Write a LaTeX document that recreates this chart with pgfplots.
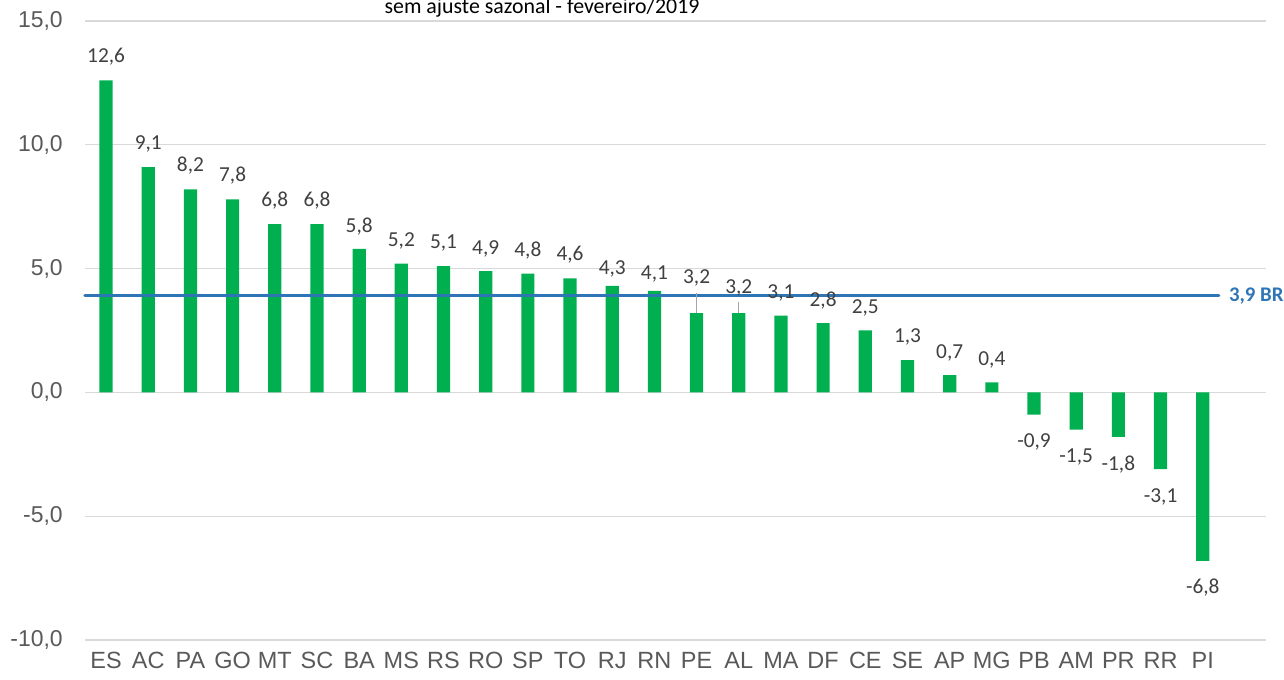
\documentclass[border=0pt]{standalone}
\usepackage{pgfplots}
\pgfplotsset{compat=1.18}
\usepackage{pgfplotstable}
\usepackage{fontspec}
\setmainfont{Carlito}
\newfontfamily\arial{Liberation Sans}
\definecolor{bargreen}{HTML}{00B050}
\definecolor{lineblue}{HTML}{2E75B6}
\definecolor{gridgray}{HTML}{D9D9D9}
\definecolor{ticktext}{HTML}{595959}
\definecolor{labeltext}{HTML}{404040}
\definecolor{leader}{HTML}{A6A6A6}

\pgfplotstableread{
x y ly
0 12.6 13.55
1 9.1 10.02
2 8.2 9.15
3 7.8 8.75
4 6.8 7.73
5 6.8 7.73
6 5.8 6.70
7 5.2 6.10
8 5.1 6.02
9 4.9 5.80
10 4.8 5.72
11 4.6 5.55
12 4.3 5.00
13 4.1 4.80
14 3.2 4.63
15 3.2 4.22
16 3.1 4.03
17 2.8 3.70
18 2.5 3.40
19 1.3 2.22
20 0.7 1.60
21 0.4 1.31
22 -0.9 -2.02
23 -1.5 -2.62
24 -1.8 -2.92
25 -3.1 -4.21
26 -6.8 -7.89
}\datatable

\begin{document}
\begin{tikzpicture}
\begin{axis}[
  scale only axis,
  width=885.75pt, height=464.25pt,
  xmin=-0.5, xmax=27.5,
  ymin=-10, ymax=15,
  ytick={-10,-5,0,5,10,15},
  xtick={0,...,26},
  xticklabels={ES,AC,PA,GO,MT,SC,BA,MS,RS,RO,SP,TO,RJ,RN,PE,AL,MA,DF,CE,SE,AP,MG,PB,AM,PR,RR,PI},
  axis line style={draw=none},
  major tick length=0pt,
  ymajorgrids,
  major grid style={gridgray, line width=0.9pt},
  /pgf/number format/assume math mode=true,
  yticklabel style={/pgf/number format/.cd, fixed, fixed zerofill, precision=1, use comma, /tikz/.cd,
    font=\arial\fontsize{17.2}{20}\selectfont, text=ticktext, inner sep=0pt, xshift=-16.5pt},
  xticklabel style={font=\arial\fontsize{17.6}{20}\selectfont, text=ticktext, inner sep=0pt, yshift=-9pt},
  clip=false,
]
\addplot[ybar, bar width=9.9pt, bar shift=0pt, fill=bargreen, draw=none] table[x=x, y=y] {\datatable};
\addplot[lineblue, line width=2.4pt, line cap=round] coordinates {(-0.5,3.9) (26.38,3.9)};
\addplot[leader, line width=0.8pt] coordinates {(14,4.03) (14,3.22)};
\addplot[leader, line width=0.8pt] coordinates {(15,3.65) (15,3.22)};
\addplot[draw=none, mark=none, point meta=\thisrow{y},
  nodes near coords={\pgfmathprintnumber[fixed, fixed zerofill, precision=1, use comma, assume math mode=true]{\pgfplotspointmeta}},
  every node near coord/.append style={anchor=center, font=\fontsize{16}{19}\selectfont, text=labeltext, inner sep=0pt}]
  table[x=x, y=ly] {\datatable};
\node[anchor=west, inner sep=0pt, xshift=7.5pt, font=\bfseries\fontsize{15.6}{18}\selectfont, text=lineblue] at (axis cs:26.38,3.9) {3,9 BR};
\end{axis}
\node[anchor=base, font=\fontsize{16.4}{19}\selectfont] at (342.75pt,470pt) {sem ajuste sazonal - fevereiro/2019};
\pgfresetboundingbox
\path (-63.75pt,-30pt) rectangle (899.25pt,480pt);
\end{tikzpicture}
\end{document}
